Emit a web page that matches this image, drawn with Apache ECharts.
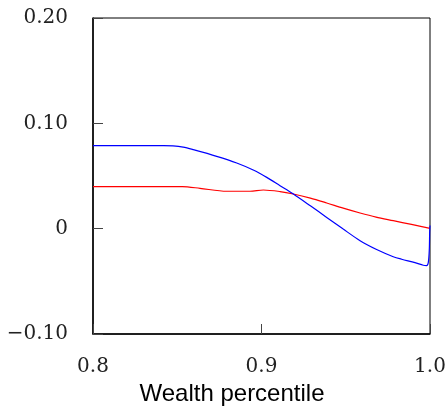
<!DOCTYPE html>
<html>
<head>
<meta charset="utf-8">
<script src="https://cdn.jsdelivr.net/npm/echarts@6/dist/echarts.min.js"></script>
<style>
html,body{margin:0;padding:0;background:#fff;}
#chart{width:447px;height:408px;}
</style>
</head>
<body>
<div id="chart"></div>
<script>
// Data
const xTicks = [0.8, 0.9, 1.0];
const yTicks = [-0.10, 0, 0.10, 0.20];
const xAxisTitle = 'Wealth percentile';

const blueX = [0.800, 0.8420, 0.8475, 0.8535, 0.8595, 0.8734, 0.8853, 0.8951, 0.9031, 0.9110, 0.9189, 0.9290, 0.9387, 0.9485, 0.9585, 0.9680, 0.9782, 0.9832, 0.9911, 0.9960, 0.9980, 0.9990, 0.9996, 0.9998, 1.000];
const blueY = [0.0788, 0.0788, 0.0786, 0.0774, 0.0750, 0.0687, 0.0624, 0.0557, 0.0487, 0.0408, 0.0329, 0.0217, 0.0107, -0.0004, -0.0114, -0.0195, -0.0266, -0.0290, -0.0322, -0.0347, -0.0351, -0.0320, -0.0190, -0.0035, 0.0030];

const redX = [0.800, 0.853, 0.8635, 0.8793, 0.8932, 0.9011, 0.9110, 0.9189, 0.9290, 0.9387, 0.9485, 0.9585, 0.9680, 0.9782, 0.9890, 1.000];
const redY = [0.0399, 0.0399, 0.0383, 0.0355, 0.0355, 0.0367, 0.0352, 0.0329, 0.0290, 0.0244, 0.0195, 0.0149, 0.0110, 0.0076, 0.0040, 0.0003];

const zip = (xs, ys) => xs.map((x, i) => [x, ys[i]]);

const chart = echarts.init(document.getElementById('chart'), null, {renderer: 'canvas'});
const serif = 'DejaVu Serif';

const option = {
  animation: false,
  backgroundColor: '#ffffff',
  grid: {left: 93, right: 17, top: 18, bottom: 74, containLabel: false, outerBoundsMode: 'none', show: true, borderColor: '#000', borderWidth: 1, backgroundColor: 'transparent'},
  xAxis: {
    type: 'value',
    min: xTicks[0], max: xTicks[xTicks.length - 1], interval: 0.1,
    name: xAxisTitle,
    nameLocation: 'middle',
    nameGap: 48,
    nameTextStyle: {fontFamily: 'Liberation Sans', fontSize: 24, color: '#000', padding: [0, 59, 0, 0]},
    axisLine: {show: true, onZero: false, lineStyle: {color: '#000', width: 1.5}},
    axisTick: {show: true, inside: true, length: 10, lineStyle: {color: '#444', width: 1}},
    splitLine: {show: false},
    axisLabel: {
      margin: 23,
      fontFamily: serif, fontSize: 20, color: '#222',
      formatter: v => v.toFixed(1)
    }
  },
  yAxis: {
    type: 'value',
    min: yTicks[0], max: yTicks[yTicks.length - 1], interval: 0.1,
    axisLine: {show: true, onZero: false, lineStyle: {color: '#000', width: 1.5}},
    axisTick: {show: true, inside: true, length: 10, lineStyle: {color: '#444', width: 1}},
    splitLine: {show: false},
    axisLabel: {
      margin: 25,
      fontFamily: serif, fontSize: 20, color: '#222',
      formatter: v => {
        if (Math.abs(v) < 1e-9) return '0';
        return (v < 0 ? '\u2212' : '') + Math.abs(v).toFixed(2);
      }
    }
  },
  series: [
    {
      type: 'line', data: zip(redX, redY), showSymbol: false, smooth: 0.3,
      lineStyle: {color: '#ff0000', width: 1.2}, itemStyle: {color: '#ff0000'}
    },
    {
      type: 'line', data: zip(blueX, blueY), showSymbol: false, smooth: 0.3,
      lineStyle: {color: '#0000ff', width: 1.2}, itemStyle: {color: '#0000ff'}
    }
  ]
};
chart.setOption(option);
</script>
</body>
</html>
